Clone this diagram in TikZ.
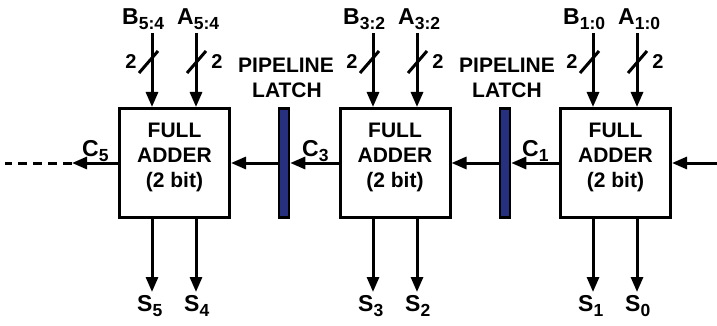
\documentclass[tikz,border=0pt]{standalone}
\usepackage{fontspec}
\setmainfont{Liberation Sans}
\usetikzlibrary{arrows.meta}
\newcommand\lsub[1]{\raisebox{-5pt}{\fontsize{17.5}{17.5}\selectfont #1}}
\begin{document}
\begin{tikzpicture}[x=1pt,y=-1pt,
  fa/.style={draw,line width=3pt,minimum width=110pt,minimum height=109pt,inner sep=0pt},
  latchbox/.style={draw,line width=2.5pt,fill=latchblue,minimum width=10pt,minimum height=109pt,inner sep=0pt},
  sig/.style={line width=3pt,-{Triangle[length=15pt,width=12pt]}},
  wire/.style={line width=3pt},
  lab/.style={font=\bfseries\fontsize{23}{23}\selectfont,inner sep=0pt,anchor=base west},
  num/.style={font=\bfseries\fontsize{20}{20}\selectfont,inner sep=0pt},
  txt/.style={font=\bfseries\fontsize{21}{25}\selectfont,align=center,inner sep=0pt},
  ltxt/.style={font=\bfseries\fontsize{21}{21}\selectfont,inner sep=0pt,anchor=base}
]
\definecolor{latchblue}{HTML}{27307F}
\useasboundingbox (0,0) rectangle (717,326);

% boxes
\node[fa] (fa1) at (174.5,163) {};
\node[fa] (fa2) at (395,163) {};
\node[fa] (fa3) at (615.5,163) {};
\foreach \b/\x in {1/174.5,2/395,3/615.5}{
  \node[txt] (t\b) at (\x,157) {FULL\\ADDER\\(2 bit)};
}
% latches
\node[latchbox] (l1) at (284,163) {};
\node[latchbox] (l2) at (505,163) {};
\node[ltxt] (pl1) at (286,73) {PIPELINE};
\node[ltxt] (la1) at (287,98) {LATCH};
\node[ltxt] (pl2) at (507,73) {PIPELINE};
\node[ltxt] (la2) at (507,98) {LATCH};

% inputs
\foreach \n/\bx/\ax/\bs/\as [count=\i] in {{5:4}/152/196/5/4,{3:2}/373/417/3/2,{1:0}/593/637/1/0}{
  \coordinate (bt\i) at (\bx,33);
  \coordinate (at\i) at (\ax,33);
  \draw[sig] (bt\i) -- (bt\i |- fa\i.north);
  \draw[sig] (at\i) -- (at\i |- fa\i.north);
  \coordinate (bs1\i) at (\bx-13,73);
  \coordinate (bs2\i) at (\bx+6,51);
  \coordinate (as1\i) at (\ax-9,73);
  \coordinate (as2\i) at (\ax+10,51);
  \draw[wire] (bs1\i) -- (bs2\i);
  \draw[wire] (as1\i) -- (as2\i);
  \node[num] (bn\i) at (\bx-21,62) {2};
  \node[num] (an\i) at (\ax+21,62) {2};
  \node[lab] (bl\i) at (\bx-30,25) {B\lsub{\n}};
  \node[lab] (al\i) at (\ax-19,25) {A\lsub{\n}};
  % outputs
  \coordinate (so1\i) at (\bx,292);
  \coordinate (so2\i) at (\ax,292);
  \draw[sig] (fa\i.south -| bt\i) -- (so1\i);
  \draw[sig] (fa\i.south -| at\i) -- (so2\i);
  \node[lab] (sl1\i) at (\bx-15,311) {S\lsub{\bs}};
  \node[lab] (sl2\i) at (\ax-12,311) {S\lsub{\as}};
}

% carries
\coordinate (c5end) at (72,163);
\coordinate (dashend) at (5,163);
\coordinate (cin) at (717,163);
\draw[sig] (fa1.west) -- (c5end);
\draw[wire,dash pattern=on 9pt off 6pt] (c5end) -- (dashend);
\draw[sig] (l1.west) -- (fa1.east);
\draw[sig] (fa2.west) -- (l1.east);
\draw[sig] (l2.west) -- (fa2.east);
\draw[sig] (fa3.west) -- (l2.east);
\draw[sig] (cin) -- (fa3.east);
\node[lab] (c5) at (82,157) {C\lsub{5}};
\node[lab] (c3) at (302,157) {C\lsub{3}};
\node[lab] (c1) at (522,157) {C\lsub{1}};
\end{tikzpicture}
\end{document}
